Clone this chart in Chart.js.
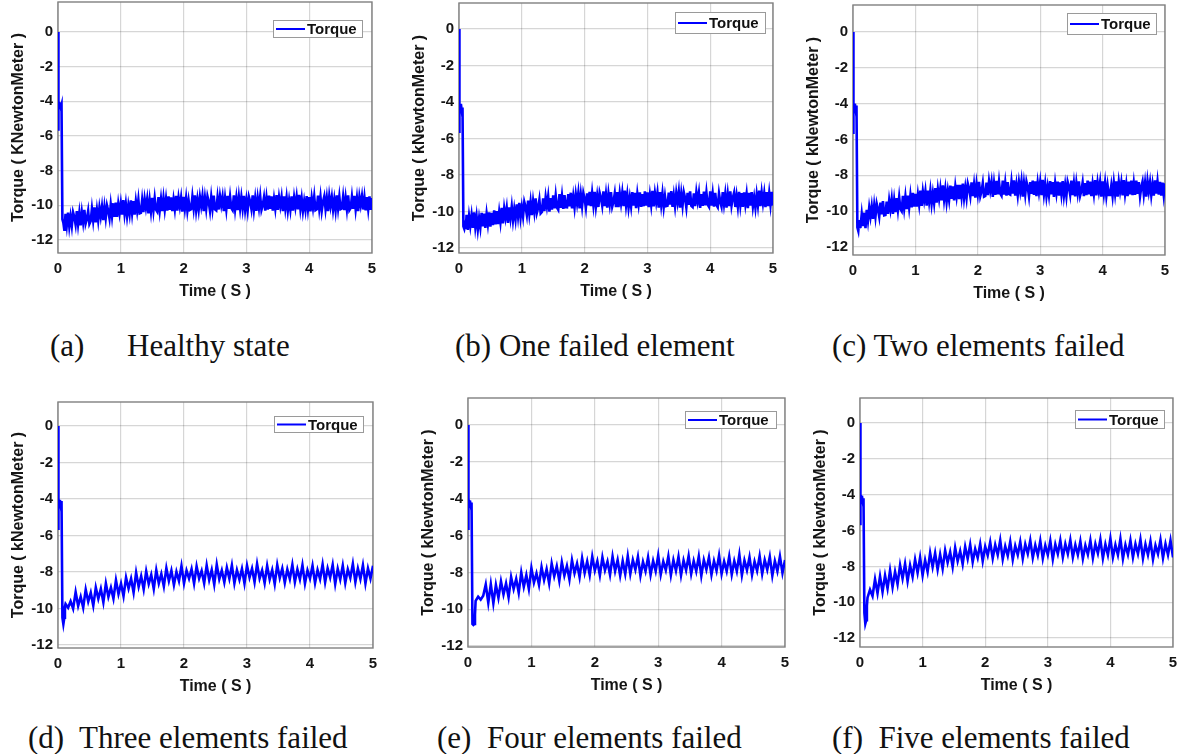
<!DOCTYPE html>
<html>
<head>
<meta charset="utf-8">
<title>Torque under element failures</title>
<script src="https://cdn.jsdelivr.net/npm/chart.js@4.4.1/dist/chart.umd.min.js"></script>
<style>
  html, body { margin: 0; padding: 0; background: #fff; }
  body { width: 1179px; height: 754px; position: relative; overflow: hidden; }
  canvas { position: absolute; }
  .cap { position: absolute; font-family: "Liberation Serif", "Times New Roman", serif; font-size: 31px; line-height: 31px; color: #111; white-space: pre; }
</style>
</head>
<body>
<div class="cap" style="left:50px;top:330px">(a)</div>
<div class="cap" style="left:127px;top:330px">Healthy state</div>
<div class="cap" style="left:455px;top:330px">(b) One failed element</div>
<div class="cap" style="left:832px;top:330px">(c) Two elements failed</div>
<div class="cap" style="left:28px;top:722px">(d)  Three elements failed</div>
<div class="cap" style="left:437px;top:722px">(e)  Four elements failed</div>
<div class="cap" style="left:832px;top:722px">(f)  Five elements failed</div>

<script>
// start-up transient: a few points read by hand, same instants for every run
var startTimes = [0, 0.004, 0.01, 0.02, 0.03, 0.045, 0.056, 0.07, 0.085, 0.1, 0.11];
// after that the torque is logged from 0.12 s up to 5 s,
// every 0.02 s for runs (a)-(c) and every 0.04 s for runs (d)-(f)
var steadyStart = 0.12;
var fineStep = 0.02;
var sampleStep = 0.04;

var timeTicks = [0, 1, 2, 3, 4, 5];
var torqueTicks = [-12, -10, -8, -6, -4, -2, 0];

/* (a) healthy */
var startHealthy = [0, -5.7, -4.0, -4.3, -4.05, -4.35, -4.2, -10.8, -11.0, -11.4, -11.0];
var torqueHealthy = [
  -10.49,-11.14,-10.42,-11.22,-10.64,-11.19,-10.41,-10.68,-11.11,-10.33,-11.08,-10.44,-11.16,-10.41,-10.97,-10.26,-11.05,-10.78,-10.33,-11.08,
  -10.92,-10.20,-10.86,-10.12,-10.98,-10.27,-10.86,-10.14,-10.64,-10.08,-10.85,-10.10,-10.72,-10.01,-10.32,-10.75,-9.96,-10.62,-9.88,-10.67,
  -9.85,-10.67,-9.92,-10.45,-9.88,-10.54,-9.70,-10.49,-9.91,-10.62,-10.00,-10.50,-9.71,-10.45,-9.76,-10.54,-9.77,-10.32,-9.68,-10.47,
  -10.44,-9.70,-10.39,-9.63,-10.13,-9.63,-10.46,-9.71,-10.35,-9.57,-10.29,-9.59,-10.25,-10.37,-9.52,-10.29,-9.64,-10.34,-9.59,-10.25,
  -9.63,-10.30,-9.49,-10.26,-9.54,-10.34,-9.67,-10.22,-9.45,-10.30,-9.57,-10.06,-9.55,-10.36,-9.51,-10.19,-9.57,-10.31,-9.72,-10.26,
  -10.22,-9.50,-10.16,-9.42,-10.28,-9.66,-10.25,-9.53,-10.03,-9.47,-10.33,-9.58,-10.20,-9.49,-9.80,-10.31,-9.52,-10.18,-9.44,-10.23,
  -10.29,-9.55,-10.24,-9.48,-9.98,-9.51,-10.34,-9.59,-10.23,-9.45,-10.20,-9.50,-10.16,-10.28,-9.43,-10.22,-9.57,-10.27,-9.52,-10.18,
  -9.53,-10.18,-9.46,-10.26,-9.68,-10.29,-9.51,-9.78,-10.21,-9.43,-10.24,-9.60,-10.32,-9.57,-10.13,-9.48,-10.27,-10.00,-9.55,-10.30,
  -9.58,-10.25,-9.44,-10.21,-9.49,-10.30,-9.63,-10.18,-9.41,-10.26,-9.54,-10.03,-9.52,-10.33,-9.48,-10.17,-9.55,-10.29,-9.70,-10.24,
  -9.48,-10.30,-9.55,-10.08,-9.51,-10.24,-9.40,-10.19,-9.61,-10.32,-9.76,-10.26,-9.47,-10.21,-9.52,-10.35,-9.58,-10.13,-9.49,-10.28,
  -10.23,-9.44,-10.18,-9.52,-10.31,-9.80,-9.49,-10.20,-9.58,-10.33,-9.47,-10.03,-9.53,-10.25,-9.66,-10.28,-9.42,-10.16,-9.50,-10.22,
  -10.18,-9.52,-10.27,-9.57,-10.22,-9.43,-10.28,-10.16,-9.50,-10.20,-9.45,-10.23,-9.59,-10.34,-9.51,-9.98,-9.48,-10.24,-9.55,-10.29,
  -9.52,-10.21,-9.48,-10.26,-9.58
];

/* (b) one failed element */
var startOne = [0, -5.7, -4.1, -4.4, -4.1, -4.5, -4.3, -10.8, -10.95, -10.7, -10.95];
var torqueOne = [
  -10.18,-11.00,-10.25,-10.78,-10.21,-10.89,-10.05,-10.84,-10.26,-10.97,-10.36,-10.86,-10.07,-10.81,-10.12,-10.90,-10.13,-10.68,-10.04,-10.83,
  -10.07,-10.74,-9.93,-10.70,-9.98,-10.69,-10.02,-10.57,-9.80,-10.65,-9.83,-10.32,-9.81,-10.62,-9.77,-10.35,-9.73,-10.47,-9.88,-10.42,
  -9.60,-10.25,-9.53,-10.33,-9.75,-10.26,-9.48,-9.75,-10.18,-9.40,-10.12,-9.48,-10.20,-9.45,-10.01,-9.28,-10.07,-9.80,-9.35,-10.10,
  -10.02,-9.28,-9.97,-9.21,-9.71,-9.18,-10.01,-9.26,-9.90,-9.12,-9.82,-9.12,-9.78,-9.90,-9.05,-9.80,-9.15,-9.85,-9.10,-9.76,
  -9.77,-9.05,-9.71,-8.97,-9.83,-9.18,-9.77,-9.05,-9.55,-8.99,-9.83,-9.08,-9.70,-8.99,-9.30,-9.79,-9.00,-9.66,-8.92,-9.71,
  -8.99,-9.64,-8.92,-9.72,-9.14,-9.75,-8.97,-9.24,-9.67,-8.89,-9.70,-9.06,-9.78,-9.03,-9.59,-8.94,-9.73,-9.46,-9.01,-9.76,
  -8.94,-9.76,-9.01,-9.54,-8.97,-9.70,-8.86,-9.65,-9.07,-9.78,-9.22,-9.72,-8.93,-9.67,-8.98,-9.81,-9.04,-9.59,-8.95,-9.74,
  -9.04,-9.71,-8.90,-9.67,-8.95,-9.76,-9.09,-9.64,-8.87,-9.72,-9.00,-9.49,-8.98,-9.79,-8.94,-9.63,-9.01,-9.75,-9.16,-9.70,
  -9.68,-8.96,-9.62,-8.88,-9.74,-9.12,-9.71,-8.99,-9.49,-8.93,-9.79,-9.04,-9.66,-8.95,-9.26,-9.77,-8.98,-9.64,-8.90,-9.69,
  -9.75,-9.01,-9.70,-8.94,-9.44,-8.97,-9.80,-9.05,-9.69,-8.91,-9.66,-8.96,-9.62,-9.74,-8.89,-9.68,-9.03,-9.73,-8.98,-9.64,
  -9.76,-9.01,-9.46,-9.73,-8.94,-9.59,-9.03,-9.78,-9.06,-9.70,-8.89,-9.67,-9.24,-8.97,-9.75,-9.14,-9.72,-8.92,-9.64,-8.99,
  -9.74,-8.95,-9.59,-9.04,-9.81,-8.98,-9.67,-8.93,-9.72,-9.22,-9.78,-9.07,-9.65,-8.86,-9.70,-8.97,-9.54,-9.01,-9.76,-8.94,
  -9.70,-9.00,-9.64,-8.92,-9.67
];

/* (c) two elements failed */
var startTwo = [0, -5.7, -4.0, -4.3, -4.0, -4.4, -4.1, -10.9, -11.1, -10.5, -10.9];
var torqueTwo = [
  -10.89,-10.17,-10.83,-10.09,-10.95,-9.93,-10.52,-9.80,-10.30,-9.74,-10.43,-9.68,-10.30,-9.59,-9.90,-10.31,-9.52,-10.18,-9.44,-10.23,
  -10.21,-9.47,-10.16,-9.40,-9.90,-9.33,-10.16,-9.41,-10.05,-9.27,-9.92,-9.22,-9.88,-10.00,-9.15,-9.84,-9.19,-9.89,-9.14,-9.80,
  -9.12,-9.79,-8.98,-9.75,-9.03,-9.75,-9.08,-9.63,-8.86,-9.71,-8.91,-9.40,-8.89,-9.70,-8.85,-9.47,-8.85,-9.59,-9.00,-9.54,
  -8.71,-9.53,-8.78,-9.31,-8.74,-9.40,-8.56,-9.35,-8.77,-9.48,-8.86,-9.36,-8.57,-9.31,-8.62,-9.40,-8.63,-9.18,-8.54,-9.33,
  -8.53,-9.18,-8.46,-9.26,-8.68,-9.25,-8.47,-8.74,-9.17,-8.39,-9.16,-8.52,-9.24,-8.49,-9.05,-8.37,-9.16,-8.89,-8.44,-9.19,
  -9.15,-8.41,-9.10,-8.34,-8.84,-8.37,-9.20,-8.45,-9.09,-8.31,-9.06,-8.36,-9.02,-9.14,-8.29,-9.08,-8.43,-9.13,-8.38,-9.04,
  -9.08,-8.36,-9.02,-8.28,-9.14,-8.52,-9.11,-8.39,-8.89,-8.33,-9.19,-8.44,-9.06,-8.35,-8.66,-9.17,-8.38,-9.04,-8.30,-9.09,
  -8.34,-9.16,-8.41,-8.94,-8.37,-9.10,-8.26,-9.05,-8.47,-9.18,-8.62,-9.12,-8.33,-9.07,-8.38,-9.21,-8.44,-8.99,-8.35,-9.14,
  -8.39,-9.04,-8.32,-9.12,-8.54,-9.15,-8.37,-8.64,-9.07,-8.29,-9.10,-8.46,-9.18,-8.43,-8.99,-8.34,-9.13,-8.86,-8.41,-9.16,
  -8.44,-9.11,-8.30,-9.07,-8.35,-9.16,-8.49,-9.04,-8.27,-9.12,-8.40,-8.89,-8.38,-9.19,-8.34,-9.03,-8.41,-9.15,-8.56,-9.10,
  -9.10,-8.56,-9.15,-8.41,-9.03,-8.34,-9.19,-8.38,-8.89,-8.40,-9.12,-8.27,-9.04,-8.49,-9.16,-8.35,-9.07,-8.30,-9.11,-8.44,
  -9.09,-8.30,-9.04,-8.38,-9.17,-8.66,-8.35,-9.06,-8.44,-9.19,-8.33,-8.89,-8.39,-9.11,-8.52,-9.14,-8.28,-9.02,-8.36,-9.08,
  -8.36,-9.14,-8.41,-9.10,-8.44
];

/* (d) three elements failed */
var startThree = [0, -5.7, -4.0, -4.3, -4.05, -4.4, -4.1, -10.5, -10.85, -10.5, -9.9];
var torqueThree = [
  -9.75,-9.95,-9.60,-10.00,-9.10,-9.85,-9.35,-9.95,-8.96,-9.62,
  -9.13,-9.84,-8.85,-9.46,-8.92,-9.66,-8.62,-9.35,-8.85,-9.45,
  -8.45,-9.20,-8.63,-9.32,-8.30,-8.90,-8.36,-9.12,-8.03,-8.80,
  -8.22,-8.94,-7.96,-8.65,-8.15,-8.92,-7.89,-8.62,-8.10,-8.78,
  -7.78,-8.49,-7.92,-8.71,-7.98,-8.49,-7.66,-8.62,-7.91,-8.35,
  -7.83,-8.63,-7.68,-8.35,-7.93,-8.61,-7.63,-8.43,-7.88,-8.68,
  -7.59,-8.39,-7.91,-8.56,-7.76,-8.36,-7.63,-8.61,-7.89,-8.41,
  -7.82,-8.62,-7.64,-8.30,-7.80,-8.55,-7.55,-8.35,-7.90,-8.60,
  -7.65,-8.40,-7.88,-8.65,-7.60,-8.32,-7.80,-8.58,-7.85,-8.38,
  -7.60,-8.55,-7.85,-8.40,-7.62,-8.62,-7.90,-8.35,-7.65,-8.60,
  -7.88,-8.38,-7.58,-8.56,-7.80,-8.30,-7.60,-8.65,-7.82,-8.40,
  -7.64,-8.60,-7.85,-8.32,-7.55,-8.55,-7.80,-8.38,-7.62,-8.62,
  -7.80,-8.35,-7.65
];

/* (e) four elements failed */
var startFour = [0, -5.7, -4.0, -4.35, -4.1, -4.4, -4.2, -10.8, -10.85, -10.8, -10.3];
var torqueFour = [
  -9.55,-9.32,-9.48,-9.27,-8.66,-9.65,-8.64,-9.68,-8.68,-9.38,
  -8.49,-9.20,-8.60,-9.35,-8.25,-8.90,-8.35,-9.10,-8.00,-8.78,
  -8.15,-8.90,-7.77,-8.55,-8.05,-8.68,-7.71,-8.42,-7.83,-8.60,
  -7.52,-8.21,-7.66,-8.45,-7.45,-8.17,-7.65,-8.38,-7.33,-8.04,
  -7.52,-8.25,-7.23,-8.02,-7.41,-8.15,-7.14,-7.90,-7.39,-8.16,
  -7.18,-7.88,-7.41,-8.13,-7.13,-7.93,-7.33,-8.18,-7.38,-8.08,
  -7.11,-8.08,-7.33,-7.85,-7.15,-8.18,-7.43,-7.93,-7.18,-8.13,
  -7.38,-7.93,-7.08,-8.11,-7.41,-7.88,-7.13,-8.15,-7.33,-7.91,
  -7.15,-8.15,-7.35,-7.88,-7.11,-8.08,-7.38,-7.93,-7.13,-8.18,
  -7.33,-7.85,-7.18,-8.13,-7.38,-7.91,-7.08,-8.08,-7.41,-7.93,
  -7.13,-8.11,-7.38,-7.93,-7.03,-8.15,-7.35,-7.88,-7.18,-8.13,
  -7.41,-7.91,-7.11,-8.08,-7.33,-7.85,-7.15,-8.18,-7.38,-7.93,
  -7.13,-8.03,-7.33
];

/* (f) five elements failed */
var startFive = [0, -5.7, -4.0, -4.3, -4.05, -4.4, -4.2, -10.6, -11.2, -11.0, -10.2];
var torqueFive = [
  -9.75,-9.30,-9.65,-8.72,-9.50,-8.55,-9.42,-8.50,-9.23,-8.22,
  -9.16,-8.30,-8.99,-7.93,-8.67,-7.86,-8.82,-7.94,-8.58,-7.62,
  -8.36,-7.50,-8.50,-7.65,-8.30,-7.25,-8.03,-7.26,-8.17,-7.33,
  -8.12,-7.11,-7.78,-7.20,-8.02,-6.96,-7.71,-7.14,-7.87,-6.90,
  -7.57,-6.79,-7.75,-7.02,-7.52,-6.75,-7.70,-6.89,-7.38,-6.65,
  -7.55,-6.80,-7.35,-6.55,-7.60,-6.88,-7.40,-6.62,-7.62,-6.85,
  -7.35,-6.62,-7.57,-6.77,-7.29,-6.55,-7.52,-6.82,-7.37,-6.57,
  -7.55,-6.83,-7.35,-6.57,-7.60,-6.77,-7.30,-6.55,-7.50,-6.75,
  -7.30,-6.53,-7.50,-6.80,-7.35,-6.60,-7.57,-6.83,-7.33,-6.55,
  -7.53,-6.75,-7.27,-6.50,-7.55,-6.77,-7.35,-6.45,-7.50,-6.80,
  -7.35,-6.47,-7.57,-6.80,-7.33,-6.55,-7.50,-6.75,-7.30,-6.50,
  -7.55,-6.77,-7.35,-6.60,-7.60,-6.83,-7.30,-6.53,-7.53,-6.75,
  -7.35,-6.55,-7.50
];

var yTitles = [
  'Torque ( KNewtonMeter )', 'Torque ( kNewtonMeter )', 'Torque ( kNewtonMeter )',
  'Torque ( kNewtonMeter )', 'Torque ( kNewtonMeter )', 'Torque ( kNewtonMeter )'
];

// page placement of every plot box, its y limits and its legend box
var panels = [
  { start: startHealthy, torque: torqueHealthy, step: fineStep,   box: [58, 2, 372, 253],     ylim: [-12.75, 1.73], legend: [273, 20, 363, 38] },
  { start: startOne,     torque: torqueOne,     step: fineStep,   box: [459, 3, 773, 253],    ylim: [-12.27, 1.42], legend: [675, 12, 766, 34] },
  { start: startTwo,     torque: torqueTwo,     step: fineStep,   box: [853, 5, 1165, 255],   ylim: [-12.45, 1.51], legend: [1067, 13, 1157, 35] },
  { start: startThree,   torque: torqueThree,   step: sampleStep, box: [58, 402, 373, 648],   ylim: [-12.16, 1.32], legend: [274, 416, 364, 433] },
  { start: startFour,    torque: torqueFour,    step: sampleStep, box: [468, 398, 785, 647],  ylim: [-12.05, 1.47], legend: [685, 411, 777, 429] },
  { start: startFive,    torque: torqueFive,    step: sampleStep, box: [860, 398, 1173, 647], ylim: [-12.5, 1.4],   legend: [1075, 410, 1165, 429] }
];

var Y_AXIS_W = 58, X_AXIS_H = 48, PAD_R = 12, PAD_T = 2;
var sansBold = { family: '"Liberation Sans", Arial, sans-serif', size: 15, weight: 'bold' };
var titleFont = { family: '"Liberation Sans", Arial, sans-serif', size: 16, weight: 'bold' };
var gridColor = 'rgba(0,0,0,0.16)';

function seriesPoints(start, torque, step) {
  var pts = startTimes.map(function (t, i) { return { x: t, y: start[i] }; });
  torque.forEach(function (v, i) {
    pts.push({ x: +(steadyStart + i * step).toFixed(2), y: v });
  });
  return pts;
}

// box round the plot area, like the axes box of the original plots
var plotFrame = {
  id: 'plotFrame',
  beforeDatasetsDraw: function (chart) {
    var a = chart.chartArea, ctx = chart.ctx;
    ctx.save();
    ctx.strokeStyle = '#808080';
    ctx.lineWidth = 1.4;
    ctx.strokeRect(a.left, a.top, a.right - a.left, a.bottom - a.top);
    ctx.restore();
  }
};

// legend drawn inside the plot, top right
var innerLegend = {
  id: 'innerLegend',
  afterDatasetsDraw: function (chart, args, opts) {
    var r = opts.rect, ctx = chart.ctx, ds = chart.data.datasets[0];
    var midY = (r[1] + r[3]) / 2;
    ctx.save();
    ctx.fillStyle = '#fff';
    ctx.fillRect(r[0], r[1], r[2] - r[0], r[3] - r[1]);
    ctx.strokeStyle = '#9a9a9a';
    ctx.lineWidth = 1;
    ctx.strokeRect(r[0] + 0.5, r[1] + 0.5, r[2] - r[0] - 1, r[3] - r[1] - 1);
    ctx.strokeStyle = ds.borderColor;
    ctx.lineWidth = 2;
    ctx.beginPath();
    ctx.moveTo(r[0] + 3, midY);
    ctx.lineTo(r[0] + 32, midY);
    ctx.stroke();
    ctx.fillStyle = '#111';
    ctx.font = 'bold 15px "Liberation Sans", Arial, sans-serif';
    ctx.textBaseline = 'middle';
    ctx.fillText(ds.label, r[0] + 34, midY + 1);
    ctx.restore();
  }
};

panels.forEach(function (p, k) {
  var L = p.box[0], T = p.box[1], R = p.box[2], B = p.box[3];
  var left = L - Y_AXIS_W, top = T - PAD_T;
  var w = R - L + Y_AXIS_W + PAD_R, h = B - T + PAD_T + X_AXIS_H;
  var cv = document.createElement('canvas');
  cv.width = w; cv.height = h;
  cv.style.left = left + 'px'; cv.style.top = top + 'px';
  cv.style.width = w + 'px'; cv.style.height = h + 'px';
  document.body.appendChild(cv);

  new Chart(cv, {
    type: 'line',
    data: {
      datasets: [{
        label: 'Torque',
        data: seriesPoints(p.start, p.torque, p.step),
        borderColor: '#0000ff',
        borderWidth: 2.6,
        pointRadius: 0,
        tension: 0,
        fill: false
      }]
    },
    options: {
      responsive: false,
      animation: false,
      devicePixelRatio: 1,
      layout: { padding: { top: PAD_T, right: PAD_R, bottom: 0, left: 0 } },
      plugins: {
        legend: { display: false },
        tooltip: { enabled: false },
        innerLegend: { rect: [p.legend[0] - left, p.legend[1] - top, p.legend[2] - left, p.legend[3] - top] }
      },
      scales: {
        x: {
          type: 'linear', min: 0, max: 5,
          afterBuildTicks: function (s) { s.ticks = timeTicks.map(function (v) { return { value: v }; }); },
          afterFit: function (s) { s.height = X_AXIS_H; s.paddingLeft = 0; s.paddingRight = 0; },
          grid: { color: gridColor, lineWidth: 1.2, drawTicks: false },
          border: { display: false },
          ticks: { padding: 7, font: sansBold, color: '#151515', maxRotation: 0, autoSkip: false },
          title: { display: true, text: 'Time ( S )', font: titleFont, color: '#151515', padding: 0 }
        },
        y: {
          type: 'linear', min: p.ylim[0], max: p.ylim[1],
          afterBuildTicks: function (s) { s.ticks = torqueTicks.map(function (v) { return { value: v }; }); },
          afterFit: function (s) { s.width = Y_AXIS_W; s.paddingTop = 0; s.paddingBottom = 0; },
          grid: { color: gridColor, lineWidth: 1.2, drawTicks: false },
          border: { display: false },
          ticks: { padding: 5, font: sansBold, color: '#151515', autoSkip: false },
          title: { display: true, text: yTitles[k], font: titleFont, color: '#151515', padding: { top: 9, bottom: 0 } }
        }
      }
    },
    plugins: [plotFrame, innerLegend]
  });
});
</script>
</body>
</html>
